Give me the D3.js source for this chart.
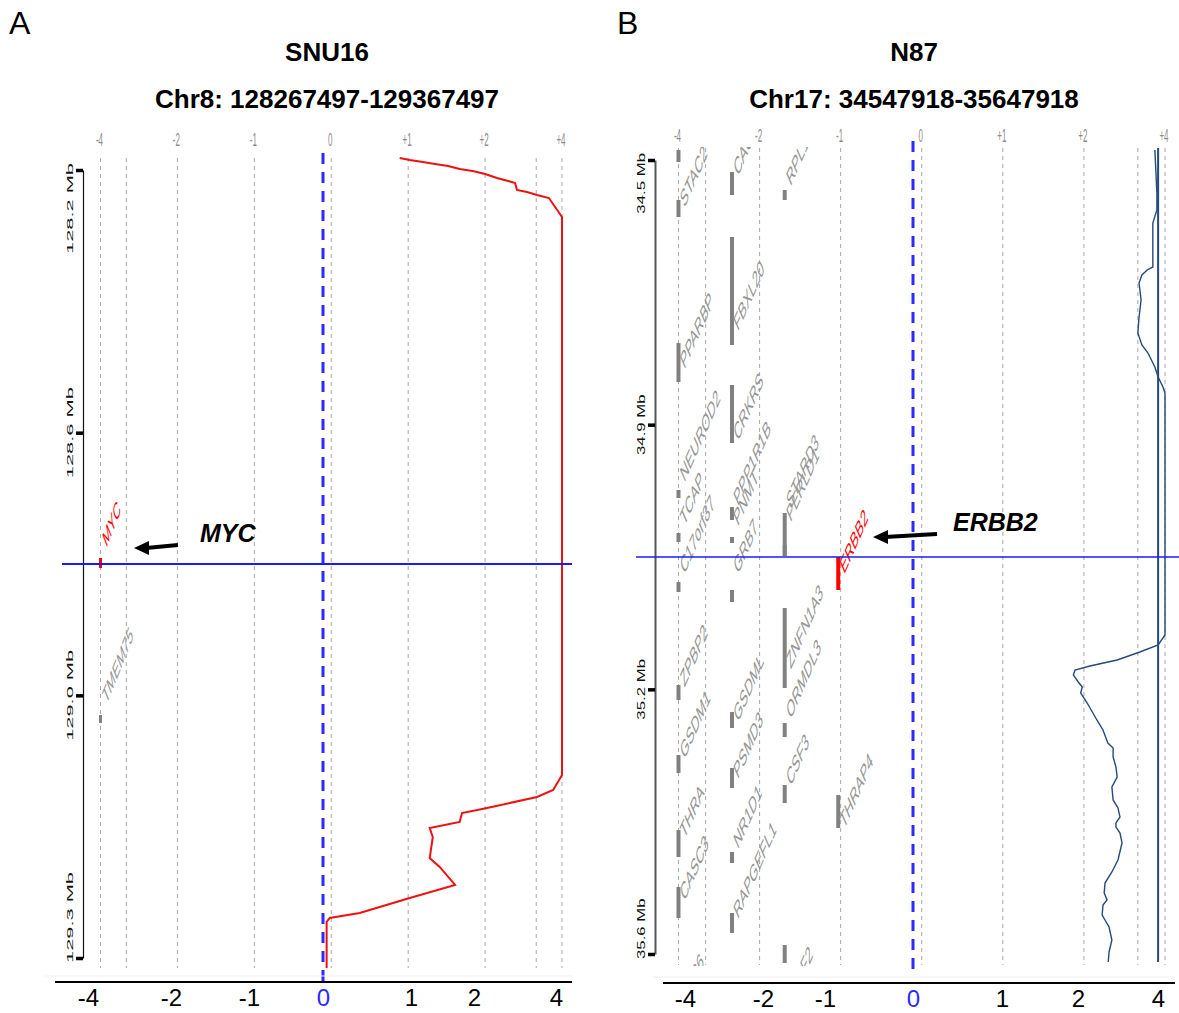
<!DOCTYPE html>
<html>
<head>
<meta charset="utf-8">
<script src="https://cdn.jsdelivr.net/npm/d3@7"></script>
<style>
  body { margin: 0; background: #fff; }
  svg text { font-family: "Liberation Sans", Arial, Helvetica, sans-serif; }
</style>
</head>
<body>
<svg width="1179" height="1013"></svg>
<script>
var svg = d3.select("svg");

// copy number axis (shared by both panels)
var cnTicks = [-4, -2, -1, 0, 1, 2, 4];
var cnTopText = ["-4", "-2", "-1", "0", "+1", "+2", "+4"];
var cnBottomText = ["-4", "-2", "-1", "0", "1", "2", "4"];
var cnGrid = [-4, -3.33, -2, -1, 0, 1, 2, 3.33, 4];

// ---- A: SNU16, chr8 (Mb) ----
var snuRegion = [128.267497, 129.367497];
var snuTicks = [128.267497, 128.634164, 129.000830, 129.367497];
var snuTickText = ["128.2 Mb", "128.6 Mb", "129.0 Mb", "129.3 Mb"];
var snuGenes = ["MYC", "TMEM75"];
var snuGeneLane = [-4, -4];
var snuGeneFrom = [128.8091, 129.0283];
var snuGeneTo = [128.8231, 129.0394];
var snuLabelAt = [128.7951, 129.0143];
var snuPos = [128.2507, 128.2535, 128.2563, 128.2591, 128.2619, 128.2661, 128.2689, 128.2731,
  128.2787, 128.2828, 128.2856, 128.2954, 128.2982, 128.3024, 128.3066, 128.3331,
  129.1120, 129.1329, 129.1427, 129.1581, 129.1651, 129.1776, 129.1860, 129.1986,
  129.2279, 129.2404, 129.2655, 129.2837, 129.3046, 129.3116, 129.3172, 129.3814];
var snuCN = [0.89, 1.02, 1.19, 1.35, 1.52, 1.67, 1.84, 2.0,
  2.31, 2.60, 2.78, 2.83, 3.09, 3.35, 3.66, 4.0,
  4.0, 3.77, 3.35, 2.05, 1.70, 1.67, 1.28, 1.32,
  1.28, 1.41, 1.61, 1.02, 0.37, -0.02, -0.06, -0.06];

// ---- B: N87, chr17 (Mb) ----
var nRegion = [34.547918, 35.647918];
var nTicks = [34.547918, 34.914585, 35.281251, 35.647918];
var nTickText = ["34.5 Mb", "34.9 Mb", "35.2 Mb", "35.6 Mb"];
var nGenes = ["", "STAC2", "PPARBP", "NEUROD2", "TCAP", "C17orf37", "ZPBP2", "GSDM1", "THRA", "CASC3", "CDC6",
  "CACNB1", "FBXL20", "CRKRS", "PPP1R1B", "PNMT", "GRB7", "GSDML", "PSMD3", "NR1D1", "RAPGEFL1",
  "RPL19", "STARD3", "PERLD1", "ZNFN1A3", "ORMDL3", "CSF3", "WIPF2",
  "ERBB2", "THRAP4"];
var nGeneLane = [-4, -4, -4, -4, -4, -4, -4, -4, -4, -4, -4,
  -2.68, -2.68, -2.68, -2.68, -2.68, -2.68, -2.68, -2.68, -2.68, -2.68,
  -1.69, -1.69, -1.69, -1.69, -1.69, -1.69, -1.69,
  -1.03, -1.03];
var nGeneFrom = [34.5341, 34.6033, 34.8015, 35.0051, 35.0647, 35.1326, 35.2753, 35.3722, 35.4761, 35.5551, 35.7000,
  34.5645, 34.6546, 34.8596, 35.0287, 35.0702, 35.1436, 35.3127, 35.3902, 35.5066, 35.5911,
  34.5895, 35.0370, 35.0813, 35.1686, 35.3279, 35.4138, 35.6355,
  35.0979, 35.4277];
var nGeneTo = [34.5507, 34.6269, 34.8555, 35.0162, 35.0771, 35.1464, 35.2960, 35.3972, 35.5136, 35.5981, 35.7100,
  34.5964, 34.8042, 34.9400, 35.0467, 35.0785, 35.1603, 35.3348, 35.4180, 35.5219, 35.6188,
  34.6033, 35.0965, 35.0965, 35.2794, 35.3473, 35.4388, 35.6604,
  35.1436, 35.4734];
var nLabelAt = [null, 34.6150, 34.8389, 34.9954, 35.0564, 35.1229, 35.2794, 35.3792, 35.4900, 35.5759, 35.7250,
  34.5715, 34.7862, 34.9386, 35.0287, 35.0564, 35.1229, 35.3279, 35.4069, 35.5039, 35.6008,
  34.5853, 35.0328, 35.0508, 35.2545, 35.3237, 35.4166, 35.7230,
  35.1229, 35.4761];
var nPos = [34.5341, 34.5936, 34.6172, 34.6352, 34.6961, 34.7003, 34.7072, 34.7183, 34.7419, 34.7654,
  34.7876, 34.8042, 34.8153, 34.8347, 34.8485, 34.8624, 34.8707, 35.2060, 35.2198, 35.2295,
  35.2406, 35.2489, 35.2545, 35.2614, 35.2711, 35.2780, 35.2863, 35.3002, 35.3237, 35.3376,
  35.3556, 35.3625, 35.3750, 35.3888, 35.4027, 35.4165, 35.4345, 35.4456, 35.4581, 35.4664,
  35.4720, 35.4803, 35.4941, 35.5177, 35.5343, 35.5496, 35.5634, 35.5731, 35.5800, 35.5939,
  35.6008, 35.6105, 35.6285, 35.6451, 35.6590];
var nCN = [3.75, 3.80, 3.80, 3.70, 3.70, 3.56, 3.43, 3.36, 3.41, 3.36,
  3.33, 3.43, 3.58, 3.75, 3.83, 3.95, 4.0, 4.0, 3.83, 3.38,
  2.82, 2.15, 1.89, 1.87, 1.93, 1.98, 1.96, 2.08, 2.32, 2.47,
  2.59, 2.72, 2.72, 2.79, 2.82, 2.69, 2.72, 2.84, 2.89, 2.79,
  2.79, 2.89, 2.94, 2.84, 2.69, 2.52, 2.50, 2.57, 2.47, 2.45,
  2.52, 2.62, 2.69, 2.62, 2.60];
var nLevel = 3.83;
var nLevelSpan = [34.5313, 35.6590];

function zip(names, lanes, from, to, lab) {
  return names.map(function(n, i) {
    return {name: n, lane: lanes[i], from: from[i], to: to[i], label: lab[i]};
  });
}

var panels = [
  {
    id: "A", title: "SNU16", sub: "Chr8: 128267497-129367497", target: "MYC",
    region: snuRegion, ticks: snuTicks, tickText: snuTickText,
    genes: zip(snuGenes, snuGeneLane, snuGeneFrom, snuGeneTo, snuLabelAt),
    curve: snuPos.map(function(p, i) { return {p: p, v: snuCN[i]}; }),
    color: "#ee1111", curveWidth: 2,
    gridX: [100.5, 562], bottomX: [88, 171, 249, 323, 411, 474, 556], yRange: [170, 958],
    axisX: 83, axisColor: "#111", gridY: [158, 968], dashY: [153, 987], focusX: [62, 572],
    baseY: 982, baseX: [55, 572], titleX: 327, letterX: 9, topY: 146,
    tickFont: 9.5, tickK: 2.3, labelFont: 9.5, labelK: 2.5, barW: 3,
    clip: [60, 150, 520, 818], arrow: [178, 134], arrowDy: -16, noteX: 200, noteDy: -22
  },
  {
    id: "B", title: "N87", sub: "Chr17: 34547918-35647918", target: "ERBB2",
    region: nRegion, ticks: nTicks, tickText: nTickText,
    genes: zip(nGenes, nGeneLane, nGeneFrom, nGeneTo, nLabelAt),
    curve: nPos.map(function(p, i) { return {p: p, v: nCN[i]}; }),
    color: "#24497a", curveWidth: 1.4,
    gridX: [678.5, 1165], bottomX: [685, 763, 825, 913, 1002, 1078, 1158], yRange: [160, 954],
    axisX: 655, axisColor: "#555", gridY: [148, 965], dashY: [141, 976], focusX: [636, 1179],
    baseY: 983, baseX: [663, 1175], titleX: 914, letterX: 617, topY: 142,
    tickFont: 10.5, tickK: 1.6, labelFont: 10.5, labelK: 2.3, barW: 4,
    clip: [640, 147, 539, 819], arrow: [937, 873], arrowDy: -20, noteX: 953, noteDy: -26
  }
];

panels.forEach(drawPanel);

function drawPanel(p) {
  var g = svg.append("g");
  var step = (p.gridX[1] - p.gridX[0]) / 6;
  var xg = d3.scaleLinear().domain(cnTicks)
      .range(cnTicks.map(function(d, i) { return p.gridX[0] + i * step; }));
  var xb = d3.scaleLinear().domain(cnTicks).range(p.bottomX);
  var y = d3.scaleLinear().domain(p.region).range(p.yRange);
  var focus = (p.region[0] + p.region[1]) / 2;

  // titles
  g.append("text").attr("x", p.letterX).attr("y", 34)
    .style("font-size", "32px").text(p.id);
  g.append("text").attr("x", p.titleX).attr("y", 61).attr("text-anchor", "middle")
    .style("font-size", "26px").style("font-weight", "bold").text(p.title);
  g.append("text").attr("x", p.titleX).attr("y", 108).attr("text-anchor", "middle")
    .style("font-size", "26px").style("font-weight", "bold").text(p.sub);

  // grid
  g.append("g").selectAll("line").data(cnGrid).enter().append("line")
    .attr("x1", xg).attr("x2", xg)
    .attr("y1", p.gridY[0]).attr("y2", p.gridY[1])
    .attr("stroke", "#a8a8a8").attr("stroke-width", 1).attr("stroke-dasharray", "4,4");

  g.append("g").selectAll("text").data(cnTicks).enter().append("text")
    .attr("transform", function(d) { return "translate(" + (xg(d) - 1) + "," + p.topY + ") scale(1,2.2)"; })
    .attr("text-anchor", "middle").attr("fill", "#8c8c8c").style("font-size", "8px")
    .text(function(d, i) { return cnTopText[i]; });

  // left genomic axis
  var ax = g.append("g").attr("transform", "translate(" + p.axisX + ",0)")
    .call(d3.axisLeft(y).tickValues(p.ticks).tickSize(7).tickSizeOuter(0).tickFormat(""));
  ax.select(".domain").attr("stroke", p.axisColor).attr("stroke-width", p.id == "A" ? 1.2 : 2);
  ax.selectAll(".tick line").attr("stroke", "#000").attr("stroke-width", 3.5);
  g.append("g").selectAll("text").data(p.ticks).enter().append("text")
    .attr("transform", function(d, i) {
      var yy = y(d) + (i == 0 ? -7 : (i == p.ticks.length - 1 ? 5 : 0));
      return "translate(" + (p.axisX - 10) + "," + yy + ") scale(1," + p.tickK + ") rotate(-90)";
    })
    .attr("text-anchor", function(d, i) { return i == 0 ? "end" : (i == p.ticks.length - 1 ? "start" : "middle"); })
    .style("font-size", p.tickFont + "px").attr("fill", "#111")
    .text(function(d, i) { return p.tickText[i]; });

  // genes
  var cid = "clip" + p.id;
  svg.append("clipPath").attr("id", cid).append("rect")
    .attr("x", p.clip[0]).attr("y", p.clip[1]).attr("width", p.clip[2]).attr("height", p.clip[3]);
  var gg = g.append("g").attr("clip-path", "url(#" + cid + ")");
  gg.selectAll("line").data(p.genes).enter().append("line")
    .attr("x1", function(d) { return xg(d.lane); }).attr("x2", function(d) { return xg(d.lane); })
    .attr("y1", function(d) { return y(d.from); }).attr("y2", function(d) { return y(d.to); })
    .attr("stroke", function(d) { return d.name == p.target ? "red" : "#808080"; })
    .attr("stroke-width", p.barW);
  gg.selectAll("text").data(p.genes.filter(function(d) { return d.label != null; })).enter().append("text")
    .attr("transform", function(d) {
      return "translate(" + (xg(d.lane) + 6) + "," + y(d.label) + ") scale(1," + p.labelK + ") rotate(-45)";
    })
    .attr("fill", function(d) { return d.name == p.target ? "red" : "#959595"; })
    .style("font-size", p.labelFont + "px")
    .text(function(d) { return d.name; });

  // copy number profile
  var line = d3.line().x(function(d) { return xg(d.v); }).y(function(d) { return y(d.p); });
  if (p.id == "B") {
    g.append("line").attr("x1", xg(nLevel)).attr("x2", xg(nLevel))
      .attr("y1", y(nLevelSpan[0])).attr("y2", y(nLevelSpan[1]))
      .attr("stroke", p.color).attr("stroke-width", 2);
  }
  g.append("path").datum(p.curve).attr("d", line)
    .attr("fill", "none").attr("stroke", p.color).attr("stroke-width", p.curveWidth);

  // focus line and zero line
  g.append("line").attr("x1", p.focusX[0]).attr("x2", p.focusX[1])
    .attr("y1", y(focus)).attr("y2", y(focus))
    .attr("stroke", "#1a1aff").attr("stroke-width", p.id == "A" ? 2 : 1.6);
  g.append("line").attr("x1", xb(0)).attr("x2", xb(0))
    .attr("y1", p.dashY[0]).attr("y2", p.dashY[1])
    .attr("stroke", "#2b2bff").attr("stroke-width", 3).attr("stroke-dasharray", "11,8");

  // bottom axis
  g.append("line").attr("x1", p.baseX[0] - 10).attr("x2", p.baseX[1]).attr("y1", p.baseY - 6).attr("y2", p.baseY - 6)
    .attr("stroke", "#eee").attr("stroke-width", 1);
  g.append("line").attr("x1", p.baseX[0]).attr("x2", p.baseX[1]).attr("y1", p.baseY).attr("y2", p.baseY)
    .attr("stroke", "#000").attr("stroke-width", 2);
  var bx = g.append("g").attr("transform", "translate(0," + p.baseY + ")")
    .call(d3.axisBottom(xb).tickValues(cnTicks).tickSize(0).tickPadding(0)
      .tickFormat(function(d, i) { return cnBottomText[i]; }));
  bx.select(".domain").remove();
  bx.selectAll("text").attr("dy", null).attr("y", 24)
    .style("font-size", "24px").style("font-family", "'Liberation Sans', Arial, sans-serif")
    .attr("fill", function(d) { return d == 0 ? "#2b2bff" : "#000"; });

  // annotation arrow
  var ay = y(focus) + p.arrowDy;
  var tip = p.arrow[1], tail = p.arrow[0];
  g.append("line").attr("x1", tail).attr("y1", ay - 3).attr("x2", tip + 12).attr("y2", ay)
    .attr("stroke", "#000").attr("stroke-width", 4);
  g.append("path")
    .attr("d", "M" + tip + "," + ay + "L" + (tip + 15) + "," + (ay - 7) + "L" + (tip + 15) + "," + (ay + 7) + "Z")
    .attr("fill", "#000");
  g.append("text").attr("x", p.noteX).attr("y", y(focus) + p.noteDy)
    .style("font-size", "25px").style("font-weight", "bold").style("font-style", "italic")
    .text(p.target);
}
</script>
</body>
</html>
